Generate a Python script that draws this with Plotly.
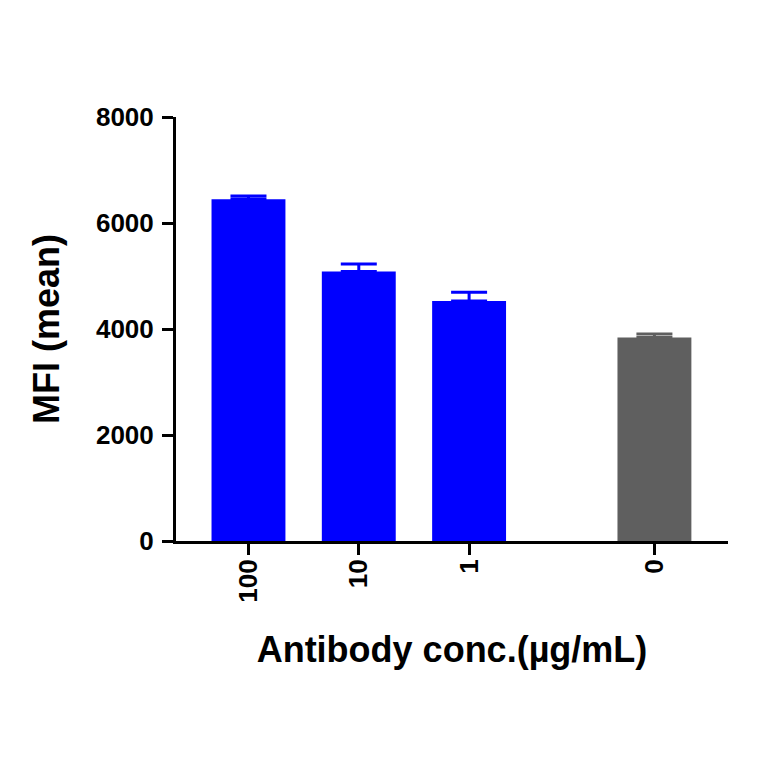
import plotly.graph_objects as go

categories = ["100", "10", "1", "0"]
mfi_mean = [6450, 5085, 4530, 3838]
mfi_err = [60, 140, 165, 70]
bar_colors = ["#0000FF", "#0000FF", "#0000FF", "#5F5F5F"]
y_ticks = [0, 2000, 4000, 6000, 8000]

# positions: three treated groups, then a gap before the control
gap = 0.68
xpos = [0, 1, 2, 3 + gap]

FONT = "Arial, Liberation Sans, sans-serif"

fig = go.Figure()
for i in range(len(categories)):
    fig.add_trace(go.Bar(
        x=[xpos[i]], y=[mfi_mean[i]], width=0.67,
        marker=dict(color=bar_colors[i], line=dict(width=0)),
        error_y=dict(type="data", array=[mfi_err[i]], arrayminus=[0], symmetric=False,
                     color=bar_colors[i], thickness=3, width=18),
        showlegend=False,
    ))

fig.update_layout(
    width=764, height=764,
    paper_bgcolor="white", plot_bgcolor="white",
    margin=dict(l=168, r=44, t=109, b=231),
    barmode="overlay",
    showlegend=False,
    font=dict(family=FONT, color="black"),
)
fig.update_xaxes(
    range=[-0.657, 4.347],
    tickmode="array", tickvals=xpos, ticktext=categories,
    tickangle=-90,
    ticks="outside", ticklen=11, tickwidth=3, tickcolor="black",
    showline=True, linewidth=3, linecolor="black",
    showgrid=False, zeroline=False,
    ticklabelstandoff=-6,
    tickfont=dict(family=FONT, size=26, color="black", weight="bold"),
    title=dict(text="<b>Antibody conc.(µg/mL)</b>", font=dict(family=FONT, size=36, color="black"), standoff=36),
)
fig.update_yaxes(
    range=[0, 8000],
    tickmode="array", tickvals=y_ticks,
    ticks="outside", ticklen=11, tickwidth=3, tickcolor="black",
    showline=True, linewidth=3, linecolor="black",
    showgrid=False, zeroline=False,
    ticklabelstandoff=3,
    tickfont=dict(family=FONT, size=26, color="black", weight="bold"),
    title=dict(text="<b>MFI (mean)</b>", font=dict(family=FONT, size=36, color="black"), standoff=26),
)

fig.write_html("out.html")
